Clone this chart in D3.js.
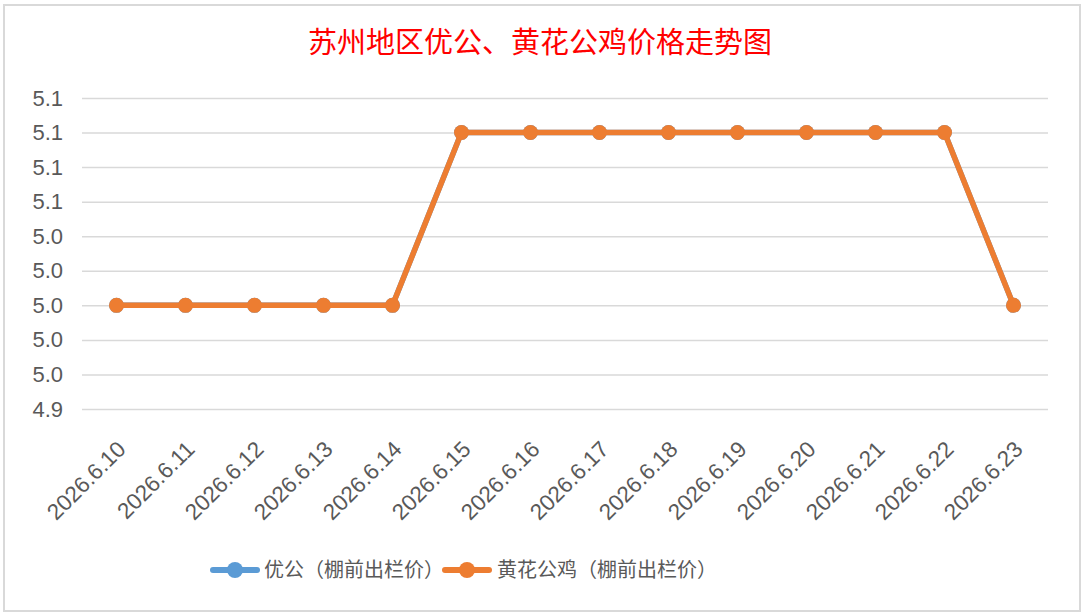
<!DOCTYPE html>
<html>
<head>
<meta charset="utf-8">
<script src="https://cdn.jsdelivr.net/npm/d3@7"></script>
<style>
  html, body { margin: 0; padding: 0; background: #fff; }
  svg { display: block; }
</style>
</head>
<body>
<svg id="chart" width="1084" height="615"></svg>
<script>
const categories = ["2026.6.10","2026.6.11","2026.6.12","2026.6.13","2026.6.14","2026.6.15","2026.6.16","2026.6.17","2026.6.18","2026.6.19","2026.6.20","2026.6.21","2026.6.22","2026.6.23"];
const seriesNames = ["优公（棚前出栏价）", "黄花公鸡（棚前出栏价）"];
const youGong = [5.00, 5.00, 5.00, 5.00, 5.00, 5.10, 5.10, 5.10, 5.10, 5.10, 5.10, 5.10, 5.10, 5.00];
const huangHua = [5.00, 5.00, 5.00, 5.00, 5.00, 5.10, 5.10, 5.10, 5.10, 5.10, 5.10, 5.10, 5.10, 5.00];
const yTickValues = [4.94, 4.96, 4.98, 5.00, 5.02, 5.04, 5.06, 5.08, 5.10, 5.12];
const yTickLabels = ["4.9", "5.0", "5.0", "5.0", "5.0", "5.0", "5.1", "5.1", "5.1", "5.1"];
const titleText = "苏州地区优公、黄花公鸡价格走势图";

const colors = ["#5B9BD5", "#ED7D31"];
const svg = d3.select("#chart");
const plot = { left: 82, right: 1048, top: 98, bottom: 409 };

// outer chart border
svg.append("rect").attr("x", 4).attr("y", 5).attr("width", 1076).attr("height", 606)
  .attr("fill", "#fff").attr("stroke", "#d9d9d9").attr("stroke-width", 2);

// title
svg.append("text").attr("x", 540).attr("y", 53).attr("text-anchor", "middle")
  .attr("font-family", "'Noto Sans CJK SC', sans-serif").attr("font-size", 29)
  .attr("fill", "#ff0000").text(titleText);

const x = d3.scaleBand().domain(categories).range([plot.left, plot.right]);
const y = d3.scaleLinear().domain([4.94, 5.12]).range([plot.bottom, plot.top]);

// gridlines + y labels via axis
const yAxis = d3.axisLeft(y).tickValues(yTickValues)
  .tickFormat((d, i) => yTickLabels[i])
  .tickSize(-(plot.right - plot.left)).tickPadding(19);
const gy = svg.append("g").attr("transform", `translate(${plot.left},0)`).call(yAxis);
gy.select(".domain").remove();
gy.selectAll(".tick line").attr("stroke", "#d9d9d9").attr("stroke-width", 1.5);
gy.selectAll(".tick text").attr("fill", "#595959")
  .attr("font-family", "'Liberation Sans', Arial, sans-serif").attr("font-size", 22);

// x labels via axis
const xAxis = d3.axisBottom(x).tickSize(0).tickPadding(0);
const gx = svg.append("g").attr("transform", `translate(0,${plot.bottom})`).call(xAxis);
gx.select(".domain").remove();
gx.selectAll(".tick text")
  .attr("fill", "#595959")
  .attr("font-family", "'Liberation Sans', Arial, sans-serif").attr("font-size", 22.5)
  .attr("text-anchor", "end")
  .attr("dy", "0.35em")
  .attr("transform", "translate(5,36) rotate(-45)")
  .attr("y", 0).attr("x", 0);

// series
const allSeries = [youGong, huangHua];
const line = d3.line().x((d, i) => x(categories[i]) + x.bandwidth() / 2).y(d => y(d));
allSeries.forEach((vals, si) => {
  const g = svg.append("g");
  g.append("path").datum(vals).attr("d", line).attr("fill", "none")
    .attr("stroke", colors[si]).attr("stroke-width", 5.5).attr("stroke-linejoin", "round").attr("stroke-linecap", "round");
  g.selectAll("circle").data(vals).join("circle")
    .attr("cx", (d, i) => x(categories[i]) + x.bandwidth() / 2)
    .attr("cy", d => y(d)).attr("r", 7.5).attr("fill", colors[si]);
});

// legend
const legendItems = [
  { x0: 213, tx: 264 },
  { x0: 445, tx: 497 }
];
legendItems.forEach((it, i) => {
  const g = svg.append("g");
  g.append("line").attr("x1", it.x0).attr("x2", it.x0 + 44).attr("y1", 570).attr("y2", 570)
    .attr("stroke", colors[i]).attr("stroke-width", 6).attr("stroke-linecap", "round");
  g.append("circle").attr("cx", it.x0 + 22).attr("cy", 570).attr("r", 8).attr("fill", colors[i]);
  g.append("text").attr("x", it.tx).attr("y", 570).attr("dy", "0.35em")
    .attr("font-family", "'Noto Sans CJK SC', sans-serif").attr("font-size", 20)
    .attr("fill", "#595959").text(seriesNames[i]);
});
</script>
</body>
</html>
